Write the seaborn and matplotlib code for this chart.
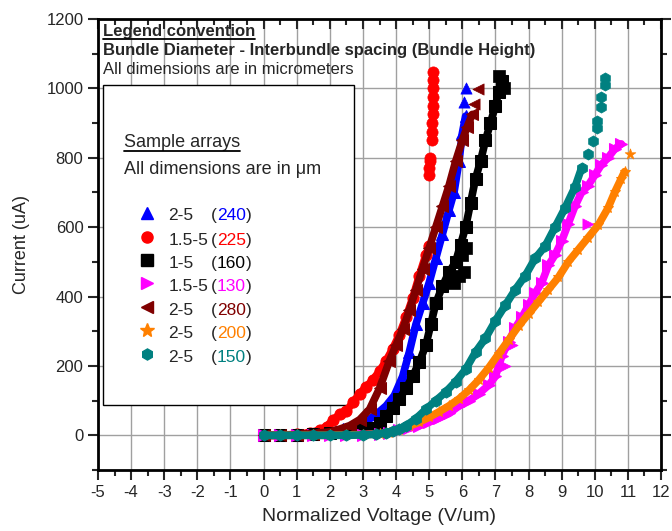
import numpy as np
import pandas as pd
import matplotlib
matplotlib.use('Agg')
from matplotlib import pyplot as plt
from matplotlib.patches import Rectangle
import seaborn as sns

# ---- data (V/um, uA) ----
samples = ['2-5', '1.5-5', '1-5', '1.5-5', '2-5', '2-5', '2-5']
heights = ['240', '225', '160', '130', '280', '200', '150']
colors = ['#0000ff', '#ff0000', '#000000', '#ff00ff', '#800000', '#ff8000', '#008080']
markers = ['^', 'o', 's', '>', '<', '*', 'h']

v_blue = [0, 0.5, 1.0, 1.5, 2.0, 2.4, 2.8, 3.1, 3.4, 3.7, 3.95, 4.2, 4.4, 4.6, 4.8, 5.0, 5.2, 5.4, 5.6, 5.75, 5.9, 6.0, 6.1]
i_blue = [0, 0, 2, 5, 10, 18, 28, 40, 60, 85, 115, 170, 240, 320, 380, 440, 510, 580, 650, 700, 790, 870, 920]
v_blue_x = [6.05, 6.12]
i_blue_x = [960, 1002]

v_red = [0, 0.5, 1.0, 1.4, 1.7, 1.9, 2.1, 2.3, 2.5, 2.7, 2.9, 3.1, 3.3, 3.5, 3.7, 3.9, 4.1, 4.3, 4.5, 4.7, 4.9, 5.0]
i_red = [0, 0, 3, 8, 15, 25, 45, 60, 70, 95, 120, 140, 160, 185, 215, 250, 290, 340, 395, 460, 520, 545]
v_red_x = [5.0, 5.0, 5.01, 5.02, 5.08, 5.09, 5.1, 5.11, 5.11, 5.12, 5.12, 5.13, 5.12]
i_red_x = [750, 770, 790, 800, 850, 875, 900, 925, 950, 975, 1000, 1025, 1048]

v_black = [0, 0.5, 1.0, 1.5, 2.0, 2.5, 2.9, 3.2, 3.5, 3.7, 3.9, 4.1, 4.3, 4.5, 4.7, 4.9, 5.05, 5.2, 5.4, 5.6, 5.8, 5.95, 6.1, 6.25, 6.4, 6.55, 6.7, 6.85, 7.0, 7.1, 7.2]
i_black = [0, 0, 1, 3, 6, 10, 15, 20, 35, 55, 80, 105, 135, 170, 210, 260, 320, 380, 430, 470, 500, 550, 600, 670, 740, 790, 850, 900, 950, 990, 1020]
v_black_x = [5.75, 5.9, 6.05, 6.0, 6.1, 7.12, 7.27]
i_black_x = [440, 460, 470, 520, 540, 1036, 1001]

v_mag = [0, 0.5, 1, 1.5, 2, 2.5, 3, 3.5, 3.8, 4.1, 4.4, 4.7, 5.0, 5.3, 5.6, 5.9, 6.2, 6.5, 6.8, 7.0, 7.2, 7.4, 7.6, 7.8, 8.0, 8.2, 8.4, 8.6, 8.8, 9.0, 9.2, 9.4, 9.6, 9.8, 10.0, 10.2, 10.4, 10.6, 10.8]
i_mag = [0, 0, 0, 0, 0, 1, 2, 4, 8, 14, 20, 28, 38, 50, 63, 85, 100, 120, 145, 170, 230, 270, 310, 340, 375, 410, 440, 490, 520, 560, 610, 660, 700, 720, 750, 780, 800, 825, 840]
v_mag_x = [9.8, 7.3, 7.5]
i_mag_x = [610, 200, 260]

v_dred = [0, 0.5, 1, 1.5, 2, 2.3, 2.6, 2.9, 3.2, 3.5, 3.8, 4.0, 4.2, 4.4, 4.6, 4.8, 5.0, 5.2, 5.4, 5.6, 5.8, 6.0, 6.15, 6.3]
i_dred = [0, 0, 2, 5, 10, 18, 28, 45, 75, 135, 215, 260, 305, 360, 420, 480, 540, 600, 660, 720, 790, 850, 890, 925]
v_dred_x = [6.35, 6.47]
i_dred_x = [955, 998]

v_orange = [0, 0.5, 1, 1.5, 2, 2.5, 3, 3.5, 3.8, 4.1, 4.4, 4.7, 5.0, 5.3, 5.6, 5.9, 6.2, 6.5, 6.8, 7.1, 7.4, 7.7, 8.0, 8.3, 8.6, 8.9, 9.2, 9.5, 9.8, 10.1, 10.4, 10.6, 10.8, 10.9]
i_orange = [0, 0, 0, 0, 0, 1, 2, 4, 8, 16, 26, 38, 52, 68, 85, 105, 130, 160, 195, 235, 275, 315, 350, 385, 420, 455, 500, 535, 570, 605, 655, 700, 740, 760]
v_orange_x = [11.05]
i_orange_x = [810]

v_teal = [0, 0.5, 1, 1.5, 2, 2.5, 3, 3.4, 3.7, 3.9, 4.1, 4.3, 4.6, 4.9, 5.2, 5.5, 5.8, 6.1, 6.4, 6.7, 7.0, 7.3, 7.6, 7.9, 8.2, 8.5, 8.8, 9.1, 9.4, 9.6]
i_teal = [0, 0, 0, 0, 0, 0, 1, 3, 8, 12, 18, 28, 48, 75, 100, 125, 155, 190, 240, 280, 330, 375, 420, 460, 510, 545, 600, 655, 715, 770]
v_teal_x = [9.8, 9.96, 10.06, 10.06, 10.2, 10.2, 10.3, 10.3]
i_teal_x = [811, 849, 887, 905, 945, 974, 1010, 1031]

dense = [(v_blue, i_blue), (v_red, i_red), (v_black, i_black), (v_mag, i_mag),
         (v_dred, i_dred), (v_orange, i_orange), (v_teal, i_teal)]
extra = [(v_blue_x, i_blue_x), (v_red_x, i_red_x), (v_black_x, i_black_x), (v_mag_x, i_mag_x),
         (v_dred_x, i_dred_x), (v_orange_x, i_orange_x), (v_teal_x, i_teal_x)]

sns.set_style('ticks')
plt.rcParams['font.family'] = ['Liberation Sans', 'DejaVu Sans']
plt.rcParams['axes.unicode_minus'] = False  # plain hyphen on negative ticks

fig = plt.figure(figsize=(6.72, 5.31), dpi=100)
ax = fig.add_axes([98 / 672, 61 / 531, 563 / 672, 451 / 531])

for k in range(7):
    v, cur = dense[k]
    sns.lineplot(x=v, y=cur, color=colors[k], marker=markers[k], lw=5.5, ms=8,
                 mec=colors[k], sort=False, estimator=None, ax=ax, zorder=3)
    vx, ix = extra[k]
    sns.scatterplot(x=vx, y=ix, color=colors[k], marker=markers[k], s=65,
                    edgecolor=colors[k], linewidth=0.5, ax=ax, zorder=3)

# axes
ax.set_xlim(-5, 12)
ax.set_ylim(-100, 1200)
ax.set_xticks(range(-5, 13))
ax.set_xticks(np.arange(-4.5, 12, 1), minor=True)
ax.set_yticks(range(0, 1201, 200))
ax.set_yticks(range(-100, 1200, 200), minor=True)
ax.grid(True, which='major', color='#a0a0a0', lw=1)
ax.set_axisbelow(True)
for sp in ax.spines.values():
    sp.set_linewidth(2)
    sp.set_color('black')
ax.tick_params(axis='both', which='both', labelsize=12, width=1.5)
ax.tick_params(axis='x', which='major', direction='out', length=7, top=True)
ax.tick_params(axis='x', which='minor', direction='out', length=4, top=True)
ax.tick_params(axis='y', which='major', direction='out', length=7, right=True)
ax.tick_params(axis='y', which='minor', direction='out', length=4, right=True)
# top / right ticks point inward
for t in ax.xaxis.get_major_ticks() + ax.xaxis.get_minor_ticks():
    t.tick2line.set_marker(3)
for t in ax.yaxis.get_major_ticks() + ax.yaxis.get_minor_ticks():
    t.tick2line.set_marker(1)
ax.set_xlabel('Normalized Voltage (V/um)', fontsize=14, labelpad=6)
ax.set_ylabel('Current (uA)', fontsize=13, labelpad=12)

# legend convention (top)
tt = ax.transAxes
t1 = ax.text(0.009, 0.972, 'Legend convention', transform=tt, fontsize=12,
             fontweight='bold', va='center', ha='left')
ax.text(0.009, 0.930, 'Bundle Diameter - Interbundle spacing (Bundle Height)', transform=tt,
        fontsize=12, fontweight='bold', va='center', ha='left')
ax.text(0.009, 0.887, 'All dimensions are in micrometers', transform=tt, fontsize=12,
        va='center', ha='left')

# sample arrays box
ax.add_patch(Rectangle((0.009, 0.144), 0.445, 0.709, transform=tt, facecolor='white',
                       edgecolor='black', lw=1, zorder=1.5))
t2 = ax.text(0.046, 0.727, 'Sample arrays', transform=tt, fontsize=13, va='center', ha='left', zorder=4)
ax.text(0.046, 0.667, 'All dimensions are in \u03bcm', transform=tt, fontsize=13,
        va='center', ha='left', zorder=4)

row_y = [0.5667, 0.5133, 0.4622, 0.4111, 0.3578, 0.3067, 0.2533]
for k in range(7):
    y = row_y[k]
    ax.plot([0.0872], [y + 0.004], transform=tt, marker=markers[k], color=colors[k],
            ms=8 if markers[k] != '*' else 10, ls='none', zorder=4, clip_on=False)
    ax.text(0.1246, y, samples[k], transform=tt, fontsize=12.5, va='center_baseline', ha='left', zorder=4)
    p1 = ax.text(0.2011, y, '(', transform=tt, fontsize=12.5, va='center_baseline', ha='left', zorder=4)
    p2 = ax.annotate(heights[k], xy=(1, y), xycoords=(p1, tt), fontsize=12.5, color=colors[k],
                     va='center_baseline', ha='left', zorder=4)
    ax.annotate(')', xy=(1, y), xycoords=(p2, tt), fontsize=12.5,
                va='center_baseline', ha='left', zorder=4)

# underline the two headings (x from text extent, y just under baseline)
fig.canvas.draw()
inv = ax.transAxes.inverted()
for t, yu in ((t1, 0.955), (t2, 0.708)):
    bb = t.get_window_extent()
    x0 = inv.transform((bb.x0, bb.y0))[0]
    x1 = inv.transform((bb.x1, bb.y0))[0]
    ax.plot([x0, x1], [yu, yu], transform=tt, color='black', lw=1.3, zorder=4, clip_on=False)

plt.savefig('out.png', dpi=100)
